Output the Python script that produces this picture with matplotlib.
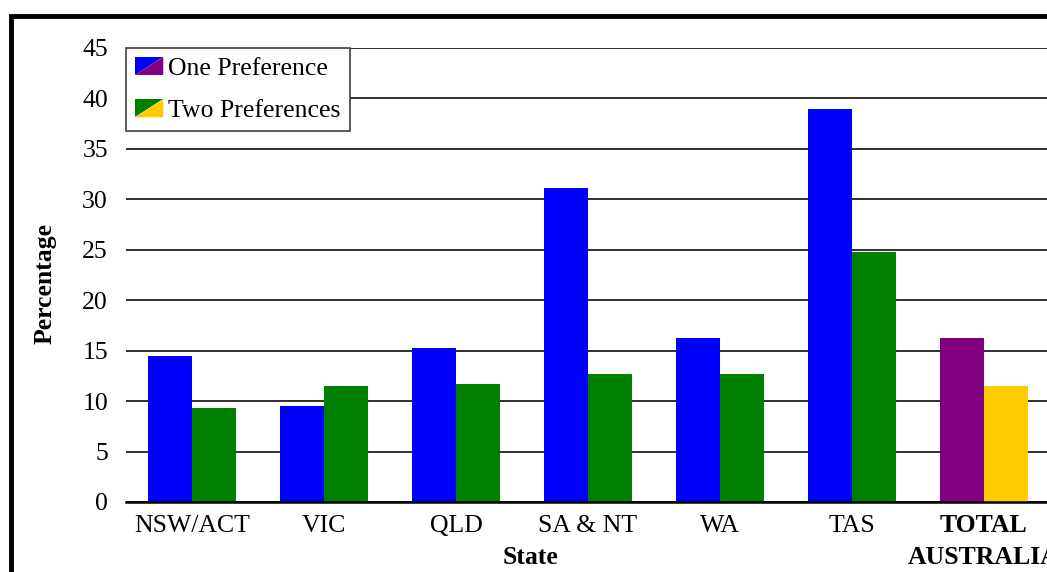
import matplotlib
matplotlib.use("Agg")
import matplotlib.pyplot as plt
from matplotlib.patches import Polygon, Rectangle
from matplotlib.legend_handler import HandlerBase
import numpy as np

plt.rcParams['font.family'] = ['Liberation Serif', 'DejaVu Serif']

categories = ["NSW/ACT", "VIC", "QLD", "SA & NT", "WA", "TAS", "TOTAL\nAUSTRALIA"]
one_pref = [14.5, 9.5, 15.3, 31.1, 16.3, 39.0, 16.3]
two_pref = [9.3, 11.5, 11.7, 12.7, 12.7, 24.8, 11.5]
series_names = ["One Preference", "Two Preferences"]
yticks = [0, 5, 10, 15, 20, 25, 30, 35, 40, 45]

blue, green, purple, yellow = "#0000FF", "#008000", "#800080", "#FFCC00"

W, H = 1047, 572
fig = plt.figure(figsize=(W / 100, H / 100), dpi=100)
ax = fig.add_axes([126 / W, 70 / H, 924 / W, 454 / H])

x = np.arange(len(categories))
bw = 1 / 3
c1 = [blue] * (len(categories) - 1) + [purple]
c2 = [green] * (len(categories) - 1) + [yellow]
ax.bar(x - bw / 2, one_pref, bw, color=c1, zorder=3, label=series_names[0])
ax.bar(x + bw / 2, two_pref, bw, color=c2, zorder=3, label=series_names[1])

ax.set_xlim(-0.5, len(categories) - 0.5)
ax.set_ylim(0, 45)
ax.set_yticks(yticks)
ax.set_xticks(x)
ax.set_xticklabels(categories, fontsize=18.5, linespacing=1.45)
ax.get_xticklabels()[-1].set_fontweight("bold")
ax.tick_params(axis="y", labelsize=18.5, length=0, pad=13)
ax.tick_params(axis="x", length=0, pad=9)
for s in ["left", "right", "top"]:
    ax.spines[s].set_visible(False)
ax.spines["bottom"].set_color("black")
ax.spines["bottom"].set_linewidth(1.8)
ax.spines["bottom"].set_zorder(4)
ax.yaxis.grid(True, color="#303030", linewidth=1.4, zorder=0)
ax.set_axisbelow(True)


class SplitHandler(HandlerBase):
    def __init__(self, c_a, c_b):
        super().__init__()
        self.c_a, self.c_b = c_a, c_b

    def create_artists(self, legend, orig_handle, xdescent, ydescent, width,
                       height, fontsize, trans):
        x0, y0 = -xdescent, -ydescent
        t1 = Polygon([[x0, y0], [x0, y0 + height], [x0 + width, y0 + height]],
                     closed=True, facecolor=self.c_a, edgecolor="none", transform=trans)
        t2 = Polygon([[x0, y0], [x0 + width, y0 + height], [x0 + width, y0]],
                     closed=True, facecolor=self.c_b, edgecolor="none", transform=trans)
        return [t1, t2]


h1 = Rectangle((0, 0), 1, 1)
h2 = Rectangle((0, 0), 1, 1)
leg = ax.legend([h1, h2], series_names, loc="upper left", bbox_to_anchor=(0, 1),
                borderaxespad=0, fontsize=18.5, frameon=True, fancybox=False,
                handler_map={h1: SplitHandler(blue, purple), h2: SplitHandler(green, yellow)},
                handlelength=1.1, handleheight=0.7, handletextpad=0.2,
                labelspacing=0.75, borderpad=0.35)
leg.get_frame().set_edgecolor("#404040")
leg.get_frame().set_linewidth(1.2)
leg.get_frame().set_alpha(1)
leg.set_zorder(5)

fig.text(45 / W, 1 - 283 / H, "Percentage", rotation=90, ha="center", va="center",
         fontsize=18.5, fontweight="bold")
fig.text(530 / W, 1 - 557 / H, "State", ha="center", va="center",
         fontsize=18.5, fontweight="bold")

fig.patches.append(Rectangle((11 / W, -0.1), 1.2, (1 - 16 / H) + 0.1,
                             transform=fig.transFigure, fill=False,
                             edgecolor="black", linewidth=3.5, zorder=10))

fig.savefig("out.png", dpi=100)
